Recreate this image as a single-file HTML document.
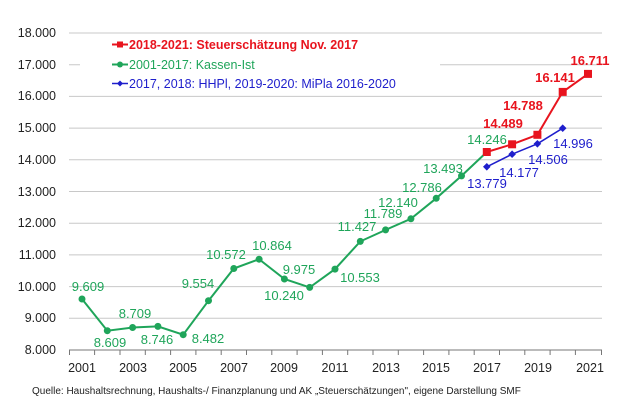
<!DOCTYPE html>
<html><head><meta charset="utf-8"><style>
body{margin:0;background:#fff;}
svg{display:block;font-family:"Liberation Sans",sans-serif;}
</style></head><body>
<svg width="620" height="411" viewBox="0 0 620 411">
<g stroke="#c8c8c8" stroke-width="1">
<line x1="69" x2="602" y1="33" y2="33"/>
<line x1="69" x2="602" y1="64.7" y2="64.7"/>
<line x1="69" x2="602" y1="96.4" y2="96.4"/>
<line x1="69" x2="602" y1="128.1" y2="128.1"/>
<line x1="69" x2="602" y1="159.8" y2="159.8"/>
<line x1="69" x2="602" y1="191.5" y2="191.5"/>
<line x1="69" x2="602" y1="223.2" y2="223.2"/>
<line x1="69" x2="602" y1="254.9" y2="254.9"/>
<line x1="69" x2="602" y1="286.6" y2="286.6"/>
<line x1="69" x2="602" y1="318.3" y2="318.3"/>
</g>
<rect x="80" y="37" width="360" height="55" fill="#fff"/>
<line x1="69" x2="602" y1="350" y2="350" stroke="#777"/>
<g stroke="#777">
<line x1="69.5" x2="69.5" y1="350" y2="355"/><line x1="94.6" x2="94.6" y1="350" y2="355"/><line x1="120" x2="120" y1="350" y2="355"/><line x1="145.3" x2="145.3" y1="350" y2="355"/><line x1="170.6" x2="170.6" y1="350" y2="355"/><line x1="195.9" x2="195.9" y1="350" y2="355"/><line x1="221.2" x2="221.2" y1="350" y2="355"/><line x1="246.5" x2="246.5" y1="350" y2="355"/><line x1="271.8" x2="271.8" y1="350" y2="355"/><line x1="297.1" x2="297.1" y1="350" y2="355"/><line x1="322.4" x2="322.4" y1="350" y2="355"/><line x1="347.7" x2="347.7" y1="350" y2="355"/><line x1="373" x2="373" y1="350" y2="355"/><line x1="398.3" x2="398.3" y1="350" y2="355"/><line x1="423.6" x2="423.6" y1="350" y2="355"/><line x1="448.9" x2="448.9" y1="350" y2="355"/><line x1="474.2" x2="474.2" y1="350" y2="355"/><line x1="499.5" x2="499.5" y1="350" y2="355"/><line x1="524.8" x2="524.8" y1="350" y2="355"/><line x1="550.1" x2="550.1" y1="350" y2="355"/><line x1="575.4" x2="575.4" y1="350" y2="355"/><line x1="601.5" x2="601.5" y1="350" y2="355"/>
</g>
<g font-size="12.5" fill="#222" text-anchor="end">
<text x="56" y="37">18.000</text><text x="56" y="69">17.000</text><text x="56" y="100">16.000</text><text x="56" y="132">15.000</text><text x="56" y="164">14.000</text><text x="56" y="196">13.000</text><text x="56" y="227">12.000</text><text x="56" y="259">11.000</text><text x="56" y="291">10.000</text><text x="56" y="322">9.000</text><text x="56" y="354">8.000</text>
</g>
<g font-size="12.5" fill="#222" text-anchor="middle">
<text x="82" y="372">2001</text><text x="133" y="372">2003</text><text x="183" y="372">2005</text><text x="234" y="372">2007</text><text x="284" y="372">2009</text><text x="335" y="372">2011</text><text x="386" y="372">2013</text><text x="436" y="372">2015</text><text x="487" y="372">2017</text><text x="538" y="372">2019</text><text x="590" y="372">2021</text>
</g>
<text x="32" y="394" font-size="10" fill="#222">Quelle: Haushaltsrechnung, Haushalts-/ Finanzplanung und AK „Steuerschätzungen", eigene Darstellung SMF</text>
<!-- green -->
<polyline fill="none" stroke="#1fa55a" stroke-width="2" points="82,299 107.3,330.7 132.6,327.5 157.9,326.4 183.2,334.7 208.5,300.7 233.8,268.5 259.1,259.2 284.4,279 309.7,287.4 335,269.1 360.3,241.4 385.6,229.9 410.9,218.8 436.2,198.3 461.5,175.9 486.8,152"/>
<g fill="#1fa55a"><circle cx="82" cy="299" r="3.5"/><circle cx="107.3" cy="330.7" r="3.5"/><circle cx="132.6" cy="327.5" r="3.5"/><circle cx="157.9" cy="326.4" r="3.5"/><circle cx="183.2" cy="334.7" r="3.5"/><circle cx="208.5" cy="300.7" r="3.5"/><circle cx="233.8" cy="268.5" r="3.5"/><circle cx="259.1" cy="259.2" r="3.5"/><circle cx="284.4" cy="279" r="3.5"/><circle cx="309.7" cy="287.4" r="3.5"/><circle cx="335" cy="269.1" r="3.5"/><circle cx="360.3" cy="241.4" r="3.5"/><circle cx="385.6" cy="229.9" r="3.5"/><circle cx="410.9" cy="218.8" r="3.5"/><circle cx="436.2" cy="198.3" r="3.5"/><circle cx="461.5" cy="175.9" r="3.5"/><circle cx="486.8" cy="152" r="3.5"/></g>
<g font-size="13" fill="#1fa55a" text-anchor="middle">
<text x="88" y="291">9.609</text><text x="110" y="347">8.609</text><text x="135" y="318">8.709</text><text x="157" y="344">8.746</text><text x="208" y="343">8.482</text><text x="198" y="288">9.554</text><text x="226" y="259">10.572</text><text x="272" y="250">10.864</text><text x="299" y="274">9.975</text><text x="284" y="300">10.240</text><text x="360" y="282">10.553</text><text x="357" y="231">11.427</text><text x="383" y="218">11.789</text><text x="398" y="207">12.140</text><text x="422" y="192">12.786</text><text x="443" y="173">13.493</text><text x="487" y="144">14.246</text>
</g>
<!-- red -->
<polyline fill="none" stroke="#e8141e" stroke-width="2" points="486.8,152 512.1,144.3 537.4,134.8 562.7,91.9 588,73.9"/>
<g fill="#e8141e"><rect x="482.8" y="148" width="8" height="8"/><rect x="508.1" y="140.3" width="8" height="8"/><rect x="533.4" y="130.8" width="8" height="8"/><rect x="558.7" y="87.9" width="8" height="8"/><rect x="584" y="69.9" width="8" height="8"/></g>
<g font-size="13" fill="#e8141e" font-weight="bold" text-anchor="middle">
<text x="503" y="128">14.489</text><text x="523" y="110">14.788</text><text x="555" y="82">16.141</text><text x="590" y="65">16.711</text>
</g>
<!-- blue -->
<polyline fill="none" stroke="#1e1ecc" stroke-width="1.5" points="486.8,166.8 512.1,154.2 537.4,143.8 562.7,128.2"/>
<g fill="#1e1ecc"><path d="M486.8 163 l3.8 3.8 -3.8 3.8 -3.8 -3.8z"/><path d="M512.1 150.4 l3.8 3.8 -3.8 3.8 -3.8 -3.8z"/><path d="M537.4 140 l3.8 3.8 -3.8 3.8 -3.8 -3.8z"/><path d="M562.7 124.4 l3.8 3.8 -3.8 3.8 -3.8 -3.8z"/></g>
<g font-size="13" fill="#1e1ecc" text-anchor="middle">
<text x="487" y="188">13.779</text><text x="519" y="177">14.177</text><text x="548" y="164">14.506</text><text x="573" y="148">14.996</text>
</g>
<!-- legend -->
<line x1="112" x2="128" y1="44.5" y2="44.5" stroke="#e8141e" stroke-width="2"/><rect x="117" y="41.5" width="6" height="6" fill="#e8141e"/>
<text x="129" y="49" font-size="12.5" font-weight="bold" fill="#e8141e">2018-2021: Steuerschätzung Nov. 2017</text>
<line x1="112" x2="128" y1="64.5" y2="64.5" stroke="#1fa55a" stroke-width="2"/><circle cx="120" cy="64.5" r="3" fill="#1fa55a"/>
<text x="129" y="69" font-size="12.5" fill="#1fa55a">2001-2017: Kassen-Ist</text>
<line x1="112" x2="128" y1="83.5" y2="83.5" stroke="#1e1ecc" stroke-width="1.5"/><path d="M120 80.5 l3 3 -3 3 -3 -3z" fill="#1e1ecc"/>
<text x="129" y="88" font-size="12.5" fill="#1e1ecc">2017, 2018: HHPl, 2019-2020: MiPla 2016-2020</text>
</svg>
</body></html>
